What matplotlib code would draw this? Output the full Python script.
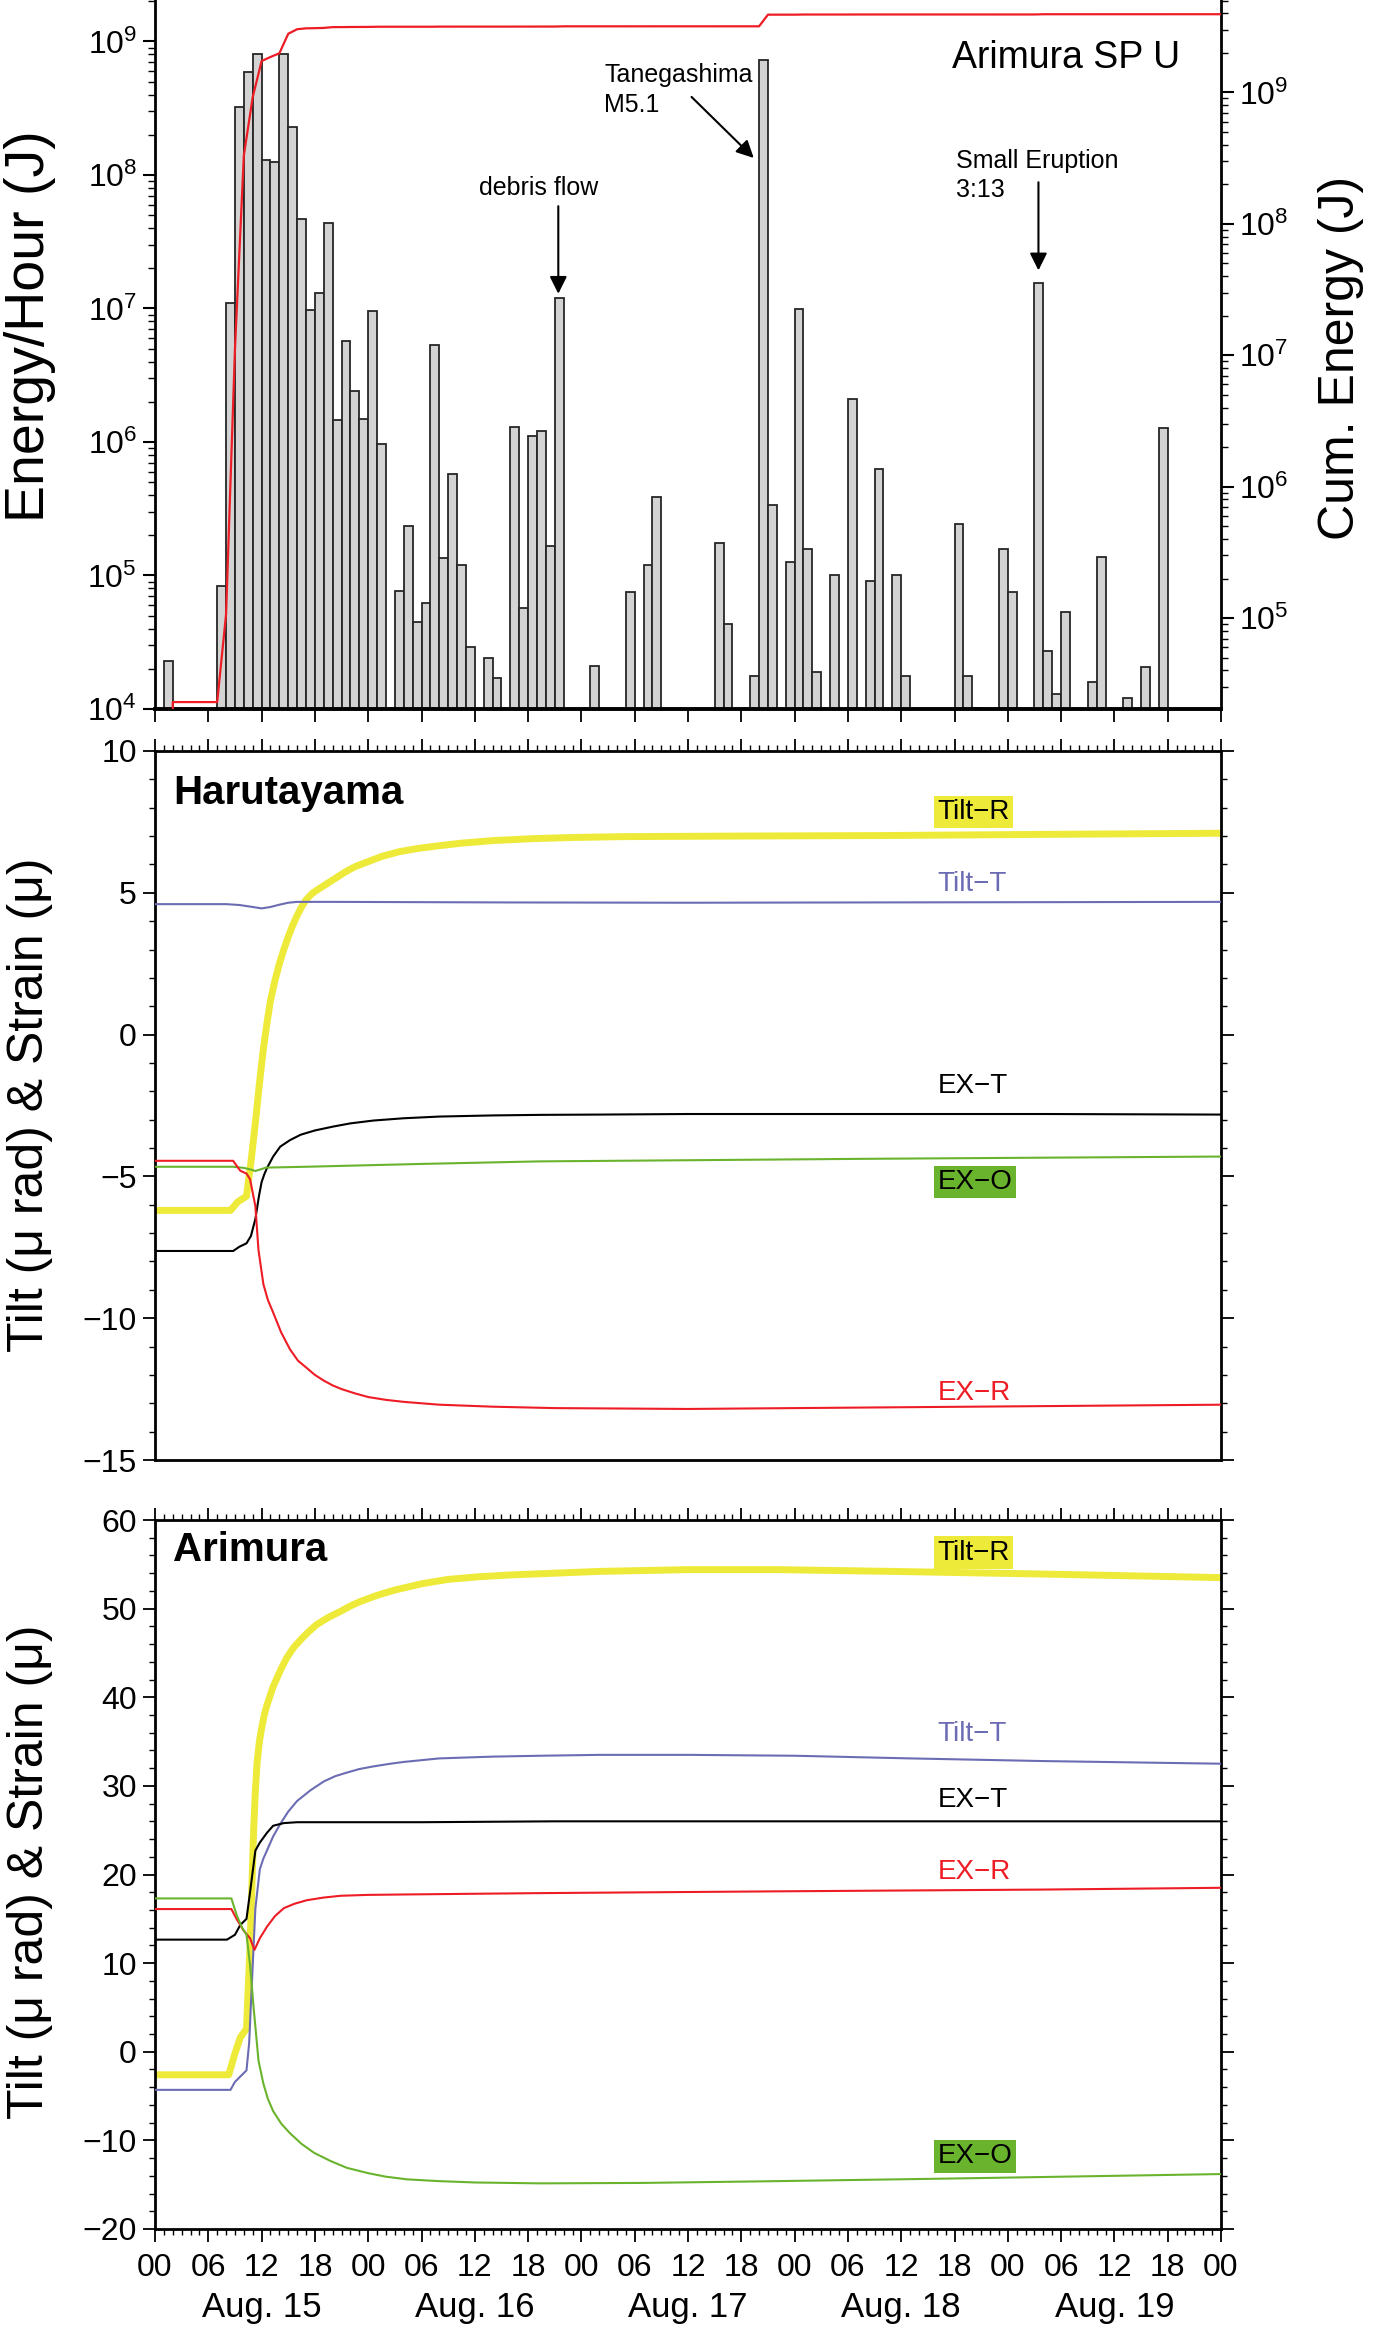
import numpy as np
import matplotlib
matplotlib.use('Agg')
import matplotlib.pyplot as plt
from matplotlib.ticker import LogLocator, MultipleLocator, NullFormatter, LogFormatterMathtext, NullLocator, FixedLocator, FixedFormatter

plt.rcParams['font.family'] = ['Liberation Sans', 'DejaVu Sans']
plt.rcParams['mathtext.fontset'] = 'custom'
plt.rcParams['mathtext.rm'] = 'Liberation Sans'
plt.rcParams['mathtext.it'] = 'Liberation Sans:italic'
plt.rcParams['mathtext.bf'] = 'Liberation Sans:bold'
plt.rcParams['axes.unicode_minus'] = True

# ---------------- data ----------------
# hourly seismic energy (hour index from Aug.15 00:00)
bar_hour = [1, 7, 8, 9, 10, 11, 12, 13, 14, 15, 16, 17, 18, 19, 20, 21, 22, 23, 24, 25,
            27, 28, 29, 30, 31, 32, 33, 34, 35, 37, 38, 40, 41, 42, 43, 44, 45, 49,
            53, 55, 56, 63, 64, 67, 68, 69, 71, 72, 73, 74, 76, 78, 80, 81, 83, 84,
            90, 91, 92, 95, 96, 99, 100, 101, 102, 105, 106, 109, 111, 113]
bar_energy = [2.3e4, 8.4e4, 1.1e7, 3.2e8, 5.9e8, 8.1e8, 1.29e8, 1.24e8, 8.1e8, 2.3e8,
              4.7e7, 9.8e6, 1.3e7, 4.4e7, 1.46e6, 5.7e6, 2.4e6, 1.48e6, 9.6e6, 9.6e5,
              7.6e4, 2.35e5, 4.5e4, 6.2e4, 5.3e6, 1.35e5, 5.8e5, 1.2e5, 2.9e4, 2.4e4,
              1.7e4, 1.3e6, 5.7e4, 1.1e6, 1.2e6, 1.65e5, 1.2e7, 2.1e4,
              7.5e4, 1.2e5, 3.9e5, 1.74e5, 4.3e4, 1.78e4, 7.2e8, 3.4e5, 1.27e5, 9.9e6,
              1.58e5, 1.9e4, 1.0e5, 2.1e6, 9.1e4, 6.3e5, 1.0e5, 1.77e4,
              2.45e5, 1.77e4, 1.02e4, 1.58e5, 7.5e4, 1.55e7, 2.7e4, 1.29e4, 5.3e4,
              1.58e4, 1.38e5, 1.2e4, 2.07e4, 1.27e6]

# Harutayama
h_tiltR_t = [0, 8.5, 9.3, 10.3, 10.8, 11.3, 11.8, 12.2, 12.6, 13.0, 13.5, 14.0, 14.5, 15.0, 15.5, 16.0, 16.5, 17.0, 17.7, 18.5, 19.5, 20.5, 21.5, 22.5, 24, 25.5, 27.5, 29.5, 32, 34.5, 38, 42.5, 47, 52.5, 65, 82.5, 100, 120]
h_tiltR_v = [-6.2, -6.2, -5.9, -5.7, -4.5, -3.1, -1.6, -0.5, 0.4, 1.2, 1.9, 2.5, 3.0, 3.45, 3.85, 4.2, 4.5, 4.75, 4.98, 5.15, 5.35, 5.55, 5.75, 5.92, 6.1, 6.28, 6.45, 6.56, 6.66, 6.75, 6.84, 6.91, 6.95, 6.98, 7.0, 7.02, 7.06, 7.1]
h_tiltT_t = [0, 8, 9.5, 11, 12, 13, 14, 15, 16, 20, 40, 60, 80, 100, 120]
h_tiltT_v = [4.6, 4.6, 4.57, 4.5, 4.45, 4.5, 4.58, 4.65, 4.68, 4.68, 4.66, 4.65, 4.66, 4.67, 4.68]
h_exT_t = [0, 8.8, 9.5, 10.3, 10.8, 11.3, 11.7, 12.0, 12.3, 12.6, 13.3, 14.1, 15.2, 16.4, 18, 20.1, 22, 24.6, 28, 32, 38, 43.4, 50, 60, 80, 100, 120]
h_exT_v = [-7.63, -7.63, -7.48, -7.36, -7.1, -6.5, -5.7, -5.2, -4.93, -4.71, -4.3, -3.95, -3.72, -3.53, -3.38, -3.24, -3.13, -3.03, -2.95, -2.89, -2.85, -2.83, -2.82, -2.8, -2.8, -2.8, -2.82]
h_exR_t = [0, 8.8, 9.2, 9.6, 10.3, 10.7, 11.3, 11.65, 12.2, 12.7, 13.3, 14.2, 15.2, 16.1, 17.1, 18, 19, 20, 21, 22.5, 24, 26, 28, 32, 38, 45, 60, 80, 100, 120]
h_exR_v = [-4.45, -4.45, -4.63, -4.8, -4.9, -5.1, -6.05, -7.6, -8.8, -9.35, -9.8, -10.5, -11.1, -11.5, -11.76, -12.0, -12.2, -12.37, -12.5, -12.65, -12.78, -12.88, -12.95, -13.05, -13.12, -13.17, -13.2, -13.15, -13.1, -13.05]
h_exO_t = [0, 8.8, 10.0, 10.8, 11.3, 11.8, 12.5, 14, 17, 20.9, 30, 43.4, 60, 80, 100, 120]
h_exO_v = [-4.66, -4.66, -4.7, -4.76, -4.81, -4.76, -4.69, -4.68, -4.66, -4.63, -4.56, -4.47, -4.43, -4.38, -4.34, -4.3]

# Arimura
a_tiltR_t = [0, 8.3, 9.0, 9.6, 10.3, 10.7, 11.1, 11.3, 11.5, 11.75, 12.0, 12.3, 12.6, 13.3, 14.1, 14.8, 15.6, 16.5, 17.3, 18.2, 19.5, 20.9, 22, 23.1, 25, 27, 30, 33, 36.5, 40, 45, 50, 60, 70, 83, 100, 120]
a_tiltR_v = [-2.6, -2.6, -0.2, 1.6, 2.6, 11.9, 24.9, 29.5, 32.7, 35.0, 36.5, 38.0, 39.1, 41.2, 43.0, 44.4, 45.6, 46.6, 47.4, 48.2, 49.0, 49.7, 50.3, 50.8, 51.5, 52.1, 52.8, 53.3, 53.6, 53.8, 54.0, 54.2, 54.4, 54.4, 54.2, 53.9, 53.5]
a_tiltT_t = [0, 8.5, 9.0, 10.3, 10.6, 10.9, 11.3, 11.8, 12.2, 12.6, 13.3, 14.1, 15.0, 16.0, 17.5, 19.0, 20.3, 21.6, 23, 24.6, 26.5, 28, 30, 32, 35, 38, 43.4, 50, 60, 72, 85, 100, 120]
a_tiltT_v = [-4.3, -4.3, -3.4, -2.1, 1.0, 7.6, 16.2, 20.6, 21.8, 22.7, 24.3, 25.7, 27.1, 28.3, 29.5, 30.5, 31.1, 31.5, 31.9, 32.2, 32.5, 32.7, 32.9, 33.1, 33.2, 33.3, 33.4, 33.5, 33.5, 33.4, 33.1, 32.8, 32.5]
a_exT_t = [0, 8.1, 9.0, 9.6, 10.3, 10.7, 11.3, 11.8, 12.6, 13.3, 14.5, 16, 20, 30, 45, 60, 80, 100, 120]
a_exT_v = [12.65, 12.65, 13.2, 14.3, 15.0, 18.0, 22.7, 23.6, 24.7, 25.5, 25.8, 25.9, 25.9, 25.9, 26.0, 26.0, 26.0, 26.0, 26.0]
a_exR_t = [0, 8.6, 9.2, 10.0, 10.7, 11.2, 11.8, 12.6, 13.5, 14.5, 15.7, 17.1, 19, 20.9, 24, 28.4, 43.4, 70, 100, 120]
a_exR_v = [16.1, 16.1, 14.95, 13.65, 12.8, 11.5, 12.8, 14.1, 15.3, 16.2, 16.7, 17.1, 17.4, 17.6, 17.7, 17.75, 17.9, 18.1, 18.3, 18.5]
a_exO_t = [0, 8.6, 9.2, 9.8, 10.3, 10.7, 11.1, 11.65, 12.2, 12.7, 13.3, 14.2, 15.2, 16.5, 17.9, 19.7, 21.6, 24, 26, 28.4, 32, 36, 43.4, 55, 70, 90, 105, 120]
a_exO_v = [17.3, 17.3, 15.4, 14.0, 13.2, 9.8, 5.0, -1.0, -3.6, -5.3, -6.7, -8.1, -9.2, -10.4, -11.4, -12.3, -13.1, -13.7, -14.1, -14.4, -14.6, -14.75, -14.85, -14.8, -14.6, -14.3, -14.05, -13.8]

xtick_labels = ['00', '06', '12', '18'] * 5 + ['00']
date_labels = ['Aug. 15', 'Aug. 16', 'Aug. 17', 'Aug. 18', 'Aug. 19']
date_hours = [12, 36, 60, 84, 108]

# ---------------- styling ----------------
YEL = '#eeea3a'
GRN = '#6ab42d'
BLU = '#6c6cb4'
RED = '#ee1c25'

W_PX, H_PX = 1383, 2336
fig = plt.figure(figsize=(W_PX / 100, H_PX / 100), dpi=100)
L = 155 / W_PX
WD = (1221 - 155) / W_PX


def rect(top, bot):
    return [L, (H_PX - bot) / H_PX, WD, (bot - top) / H_PX]


TS = 23  # tick label size

# ---------------- top panel ----------------
ax1 = fig.add_axes(rect(0, 709))
be = np.array(bar_energy)
ax1.bar(bar_hour, be - 1e4, bottom=1e4, width=1.0, align='edge',
        color='#d3d3d3', edgecolor='#262626', linewidth=1.3, zorder=2)
ax1.set_yscale('log')
ax1.set_ylim(1e4, 10 ** 9.31)
ax1.set_xlim(0, 120)
ax1.spines['top'].set_visible(False)
ax1.spines['right'].set_visible(False)
ax1.spines['left'].set_linewidth(2)
ax1.spines['bottom'].set_linewidth(2.8)
ax1.xaxis.set_major_locator(MultipleLocator(6))
ax1.xaxis.set_minor_locator(NullLocator())
ax1.tick_params(axis='x', direction='out', length=9, width=1.3, labelbottom=False)
ax1.yaxis.set_major_locator(LogLocator(base=10, numticks=10))
ax1.yaxis.set_minor_locator(LogLocator(base=10, subs=np.arange(2, 10), numticks=20))
ax1.yaxis.set_minor_formatter(NullFormatter())
ax1.yaxis.set_major_formatter(LogFormatterMathtext())
ax1.tick_params(axis='y', which='major', direction='out', length=9, width=1.5, labelsize=TS, pad=4)
ax1.tick_params(axis='y', which='minor', direction='out', length=5, width=1.0)

ax2 = ax1.twinx()
ax2.set_yscale('log')
ax2.set_ylim(10 ** 4.309, 10 ** 9.703)
energy_full = np.zeros(120)
energy_full[bar_hour] = bar_energy
cum = np.cumsum(energy_full)
i0 = bar_hour[0]
cx = np.concatenate([[i0 + 1], np.arange(i0 + 1, 121)])
cy = np.concatenate([[10 ** 4.309], cum[i0:]])
ax2.plot(cx, cy, color=RED, lw=1.6, zorder=3)
ax2.set_xlim(0, 120)
for s in ['top', 'left', 'bottom']:
    ax2.spines[s].set_visible(False)
ax2.spines['right'].set_linewidth(2)
ax2.yaxis.set_major_locator(LogLocator(base=10, numticks=10))
ax2.yaxis.set_minor_locator(LogLocator(base=10, subs=np.arange(2, 10), numticks=20))
ax2.yaxis.set_minor_formatter(NullFormatter())
ax2.yaxis.set_major_formatter(LogFormatterMathtext())
ax2.tick_params(axis='y', which='major', direction='out', length=9, width=1.5, labelsize=TS, pad=4)
ax2.tick_params(axis='y', which='minor', direction='out', length=5, width=1.0)

# annotations
AF = 18
ax1.text(43.2, 10 ** 7.904, 'debris flow', fontsize=AF, ha='center', va='center')
ax1.annotate('', xy=(45.4, 10 ** 7.11), xytext=(45.4, 10 ** 7.766),
             arrowprops=dict(arrowstyle='-|>', mutation_scale=26, lw=1.5, color='k', shrinkA=0, shrinkB=0))
ax1.text(50.6, 10 ** 8.745, 'Tanegashima', fontsize=AF, ha='left', va='center')
ax1.text(50.6, 10 ** 8.52, 'M5.1', fontsize=AF, ha='left', va='center')
ax1.annotate('', xy=(67.4, 10 ** 8.127), xytext=(60.4, 10 ** 8.584),
             arrowprops=dict(arrowstyle='-|>', mutation_scale=26, lw=1.5, color='k', shrinkA=0, shrinkB=0))
ax1.text(90.2, 10 ** 8.103, 'Small Eruption', fontsize=AF, ha='left', va='center')
ax1.text(90.2, 10 ** 7.886, '3:13', fontsize=AF, ha='left', va='center')
ax1.annotate('', xy=(99.45, 10 ** 7.285), xytext=(99.45, 10 ** 7.945),
             arrowprops=dict(arrowstyle='-|>', mutation_scale=26, lw=1.5, color='k', shrinkA=0, shrinkB=0))
ax1.text(115.4, 10 ** 8.876, 'Arimura SP U', fontsize=27, ha='right', va='center')

fig.text(30 / W_PX, 1 - 326 / H_PX, 'Energy/Hour (J)', rotation=90, ha='center', va='center', fontsize=40)
fig.text(1341 / W_PX, 1 - 358 / H_PX, 'Cum. Energy (J)', rotation=90, ha='center', va='center', fontsize=36)


# ---------------- tilt panels ----------------
def tilt_axes(top, bot, ylim, major, minor, bottom_labels):
    ax = fig.add_axes(rect(top, bot))
    ax.set_xlim(0, 120)
    ax.set_ylim(*ylim)
    for s in ax.spines.values():
        s.set_linewidth(2)
    ax.xaxis.set_major_locator(MultipleLocator(6))
    ax.xaxis.set_minor_locator(MultipleLocator(1))
    ax.yaxis.set_major_locator(MultipleLocator(major))
    ax.yaxis.set_minor_locator(MultipleLocator(minor))
    ax.tick_params(axis='both', which='both', direction='out', top=True, right=True,
                   bottom=bottom_labels, labelbottom=bottom_labels, labeltop=False, labelright=False)
    ax.tick_params(axis='both', which='major', length=9, width=1.3, labelsize=TS, pad=4)
    ax.tick_params(axis='both', which='minor', length=4.5, width=1.0)
    return ax


def draw_series(ax, series, labels):
    for t, v, c, lw, z in series:
        ax.plot(t, v, color=c, lw=lw, zorder=z, solid_joinstyle='round', solid_capstyle='butt')
    for txt, y, tc, bg in labels:
        kw = {}
        if bg is not None:
            kw['bbox'] = dict(facecolor=bg, edgecolor='none', boxstyle='square,pad=0.12')
        ax.text(88.1, y, txt, color=tc, fontsize=20, ha='left', va='center', **kw)


ax3 = tilt_axes(751, 1460, (-15, 10), 5, 1, False)
draw_series(ax3, [
    (h_tiltR_t, h_tiltR_v, YEL, 5.0, 2),
    (h_tiltT_t, h_tiltT_v, BLU, 1.5, 3),
    (h_exT_t, h_exT_v, 'k', 1.5, 3),
    (h_exO_t, h_exO_v, GRN, 1.5, 3),
    (h_exR_t, h_exR_v, RED, 1.5, 3),
], [
    ('Tilt−R', 7.85, 'k', YEL),
    ('Tilt−T', 5.3, BLU, None),
    ('EX−T', -1.8, 'k', None),
    ('EX−O', -5.2, 'k', GRN),
    ('EX−R', -12.65, RED, None),
])
ax3.text(2.0, 8.53, 'Harutayama', fontsize=29, fontweight='bold', ha='left', va='center')
fig.text(30 / W_PX, 1 - 1105 / H_PX, 'Tilt (μ rad) & Strain (μ)', rotation=90,
         ha='center', va='center', fontsize=36)

ax4 = tilt_axes(1520, 2229, (-20, 60), 10, 2, True)
draw_series(ax4, [
    (a_tiltR_t, a_tiltR_v, YEL, 5.0, 2),
    (a_tiltT_t, a_tiltT_v, BLU, 1.5, 3),
    (a_exT_t, a_exT_v, 'k', 1.5, 3),
    (a_exR_t, a_exR_v, RED, 1.5, 3),
    (a_exO_t, a_exO_v, GRN, 1.5, 3),
], [
    ('Tilt−R', 56.3, 'k', YEL),
    ('Tilt−T', 35.8, BLU, None),
    ('EX−T', 28.4, 'k', None),
    ('EX−R', 20.3, RED, None),
    ('EX−O', -11.8, 'k', GRN),
])
ax4.text(2.0, 56.6, 'Arimura', fontsize=29, fontweight='bold', ha='left', va='center')
ax4.xaxis.set_major_locator(FixedLocator(np.arange(0, 121, 6)))
ax4.xaxis.set_major_formatter(FixedFormatter(xtick_labels))
ax4.tick_params(axis='x', which='major', pad=8)
for h, lab in zip(date_hours, date_labels):
    ax4.text(h, -78 / 709, lab, transform=ax4.get_xaxis_transform(), fontsize=25,
             ha='center', va='center')
fig.text(30 / W_PX, 1 - 1872 / H_PX, 'Tilt (μ rad) & Strain (μ)', rotation=90,
         ha='center', va='center', fontsize=36)

fig.savefig('out.png', dpi=100)
